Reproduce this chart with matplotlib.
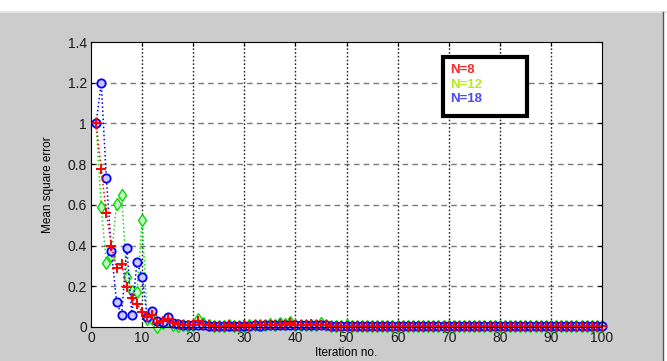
import matplotlib.pyplot as plt
import numpy as np

plt.rcParams['font.family'] = ['Liberation Sans', 'DejaVu Sans']

# mean square error per iteration, one list per filter length
iters = np.arange(1, 101)

mse_n8 = [1.00, 0.775, 0.56, 0.40, 0.29, 0.31, 0.195, 0.142, 0.115, 0.072,
          0.05, 0.06, 0.022, 0.03, 0.04, 0.02, 0.015, 0.01, 0.01, 0.01,
          0.03, 0.015, 0.008, 0.005, 0.006, 0.007, 0.012, 0.006, 0.005, 0.008,
          0.006, 0.01, 0.008, 0.01, 0.012, 0.01, 0.014, 0.012, 0.02, 0.012,
          0.01, 0.008, 0.015, 0.01, 0.012, 0.008, 0.006, 0.007, 0.005, 0.005] + [0.004] * 50

mse_n12 = [1.00, 0.59, 0.315, 0.35, 0.605, 0.648, 0.247, 0.175, 0.173, 0.525,
           0.04, 0.04, 0.0, 0.02, 0.03, 0.01, 0.005, 0.01, 0.005, 0.01,
           0.038, 0.02, 0.008, 0.005, 0.006, 0.005, 0.008, 0.005, 0.006, 0.005,
           0.008, 0.01, 0.008, 0.012, 0.016, 0.01, 0.02, 0.014, 0.025, 0.012,
           0.01, 0.012, 0.01, 0.012, 0.02, 0.01, 0.006, 0.005, 0.005, 0.008] + [0.004] * 50

mse_n18 = [1.00, 1.20, 0.733, 0.373, 0.124, 0.059, 0.39, 0.059, 0.32, 0.247,
           0.05, 0.08, 0.03, 0.025, 0.048, 0.02, 0.015, 0.01, 0.008, 0.01,
           0.012, 0.01, 0.005, 0.006, 0.005, 0.006, 0.005, 0.006, 0.005, 0.006,
           0.007, 0.008, 0.007, 0.009, 0.01, 0.008, 0.01, 0.009, 0.012, 0.01,
           0.008, 0.009, 0.008, 0.01, 0.012, 0.008, 0.006, 0.005, 0.005, 0.005] + [0.004] * 50

legend_labels = ['N=8', 'N=12', 'N=18']
legend_colors = ['#ff2a2a', '#b8ea1e', '#4a4aee']

fig = plt.figure(figsize=(6.67, 3.61), dpi=100, facecolor='#cccccc')

# window frame: white strip on top, thin border on the right
fig.patches.append(plt.Rectangle((0, 1 - 11 / 361), 1, 11 / 361, transform=fig.transFigure,
                                 facecolor='white', edgecolor='none'))
fig.add_artist(plt.Line2D([0, 1], [1 - 12 / 361] * 2, color='#e4e4e4', lw=1.5))
fig.add_artist(plt.Line2D([663 / 667] * 2, [0, 1 - 12 / 361], color='#555555', lw=1))
fig.patches.append(plt.Rectangle((664 / 667, 0), 3 / 667, 1, transform=fig.transFigure,
                                 facecolor='white', edgecolor='none'))

ax = fig.add_axes([91 / 667, 1 - 327 / 361, 511 / 667, 285 / 361])
ax.set_facecolor('white')

ax.plot(iters, mse_n12, ':', color='#00ee00', lw=1.1, marker='d', ms=6.5,
        mfc='#c8f5c8', mec='#00dd00', mew=1, clip_on=False)
ax.plot(iters, mse_n18, ':', color='#0000ff', lw=1.1, marker='o', ms=6,
        mfc='#c8c8ff', mec='#0000ff', mew=1.3, clip_on=False)
ax.plot(iters, mse_n8, ':', color='#ff0000', lw=1.1, marker='+', ms=7,
        mec='#ff0000', mew=1.4, clip_on=False)

ax.set_xlim(0, 100)
ax.set_ylim(0, 1.4)
ax.set_xticks(np.arange(0, 101, 10))
ax.set_yticks(np.arange(0, 1.41, 0.2))
ax.set_yticklabels(['0', '0.2', '0.4', '0.6', '0.8', '1', '1.2', '1.4'])
ax.tick_params(direction='in', labelsize=10, length=3, width=0.8, pad=3,
               top=True, right=True, labelcolor='#1a1a1a')

for y in np.arange(0.2, 1.4, 0.2):
    ax.axhline(y, color='#7a7a7a', lw=1, ls=(0, (4, 3)), zorder=0)
for x in np.arange(10, 100, 10):
    ax.axvline(x, color='#222222', lw=1, ls=(0, (1.2, 1.5)), zorder=0)

for s in ax.spines.values():
    s.set_linewidth(0.8)

ax.set_xlabel('Iteration no.', fontsize=8.5, labelpad=1.5)
ax.set_ylabel('Mean square error', fontsize=8.5, labelpad=10)

# hand-drawn legend box
box = plt.Rectangle((443 / 667, 1 - 116 / 361), 84 / 667, 59 / 361, transform=fig.transFigure,
                    facecolor='white', edgecolor='black', lw=3, zorder=5)
fig.add_artist(box)
for i, (lab, col) in enumerate(zip(legend_labels, legend_colors)):
    fig.text(450 / 667, 1 - (70 + 14.5 * i) / 361, lab, color=col, fontsize=9.5,
             fontweight='bold', va='center', ha='left', zorder=6)

fig.savefig('out.png', dpi=100, facecolor=fig.get_facecolor())
